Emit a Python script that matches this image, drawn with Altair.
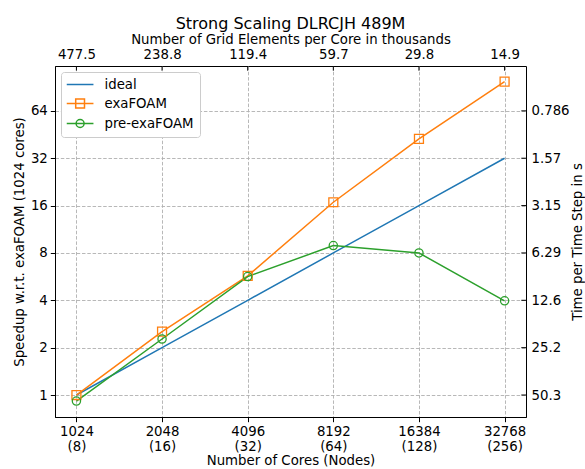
import altair as alt
import pandas as pd

# ---------------- data ----------------
cores = [1024, 2048, 4096, 8192, 16384, 32768]
nodes = [8, 16, 32, 64, 128, 256]
ideal = [1, 2, 4, 8, 16, 32]
exafoam = [1.0, 2.53, 5.72, 16.8, 42.5, 98.1]
pre_exafoam = [0.916, 2.27, 5.66, 8.91, 8.0, 3.97]
grid_k = ["477.5", "238.8", "119.4", "59.7", "29.8", "14.9"]
speedup_ticks = [1, 2, 4, 8, 16, 32, 64]
time_labels = ["50.3", "25.2", "12.6", "6.29", "3.15", "1.57", "0.786"]
series = ["ideal", "exaFOAM", "pre-exaFOAM"]
colors = ["#1f77b4", "#ff7f0e", "#2ca02c"]

# ---------------- layout ----------------
W, H = 471, 351
XDOM = [861, 38968]
YDOM = [0.725, 123.4]
FONT = "DejaVu Sans"
FS = 13.3

rows = []
for name, vals in zip(series, [ideal, exafoam, pre_exafoam]):
    for c, v in zip(cores, vals):
        rows.append({"cores": c, "series": name, "speedup": v})
df = pd.DataFrame(rows)
df_ex = df[df.series == "exaFOAM"]
df_pre = df[df.series == "pre-exaFOAM"]
df_top = pd.DataFrame({"cores": cores})
df_right = pd.DataFrame({"speedup": speedup_ticks})

xscale = alt.Scale(type="log", base=2, domain=XDOM, nice=False)
yscale = alt.Scale(type="log", base=2, domain=YDOM, nice=False)

cores_js = "[" + ",".join(str(c) for c in cores) + "]"
nodes_js = "[" + ",".join(str(n) for n in nodes) + "]"
grid_js = "[" + ",".join("'" + g + "'" for g in grid_k) + "]"
sp_js = "[" + ",".join(str(s) for s in speedup_ticks) + "]"
time_js = "[" + ",".join("'" + t + "'" for t in time_labels) + "]"

bottom_expr = ("['' + datum.value, '(' + " + nodes_js +
               "[indexof(" + cores_js + ", datum.value)] + ')']")
top_expr = grid_js + "[indexof(" + cores_js + ", datum.value)]"
right_expr = time_js + "[indexof(" + sp_js + ", datum.value)]"

x_main = alt.X("cores:Q", scale=xscale, axis=alt.Axis(
    values=cores, labelExpr=bottom_expr, title="Number of Cores (Nodes)",
    grid=True, tickSize=4.7, labelPadding=3, labelLineHeight=14.5,
    titlePadding=1, labelFlush=False))
y_main = alt.Y("speedup:Q", scale=yscale, axis=alt.Axis(
    values=speedup_ticks, format="d", title="Speedup w.r.t. exaFOAM (1024 cores)",
    grid=True, tickSize=4.7, labelPadding=3, titlePadding=4, labelFlush=False))

# legend symbols: line with hollow marker (custom paths; marker outline is
# traced twice in opposite directions so that it stays unfilled)
u = 6.0      # px per path unit (sqrt(144)/2)
c = 6.75     # symbol centre within legend column
L = 26.7
x0 = -c / u
x1 = (L - c) / u
m = (L / 2 - c) / u
a_sq = 4.4 / u
a_ci = 4.0 / u
def f(v):
    return f"{v:.3f}"
p_line = f"M{f(x0)},0H{f(x1)}"
p_sq = (p_line +
        f"M{f(m - a_sq)},{f(-a_sq)}H{f(m + a_sq)}V{f(a_sq)}H{f(m - a_sq)}Z"
        f"M{f(m - a_sq)},{f(-a_sq)}V{f(a_sq)}H{f(m + a_sq)}V{f(-a_sq)}Z")
p_ci = (p_line +
        f"M{f(m - a_ci)},0A{f(a_ci)},{f(a_ci)} 0 1,0 {f(m + a_ci)},0"
        f"A{f(a_ci)},{f(a_ci)} 0 1,0 {f(m - a_ci)},0Z"
        f"M{f(m - a_ci)},0A{f(a_ci)},{f(a_ci)} 0 1,1 {f(m + a_ci)},0"
        f"A{f(a_ci)},{f(a_ci)} 0 1,1 {f(m - a_ci)},0Z")

legend = alt.Legend(
    title=None, orient="none", legendX=6, legendY=6, padding=5.5,
    fillColor="white", strokeColor="#cccccc", cornerRadius=3,
    labelFont=FONT, labelFontSize=FS, labelColor="black",
    rowPadding=4, symbolSize=144, symbolStrokeWidth=1.5, labelOffset=24,
    symbolFillColor="transparent", symbolOpacity=1)

line = alt.Chart(df).mark_line(strokeWidth=1.5, clip=True).encode(
    x=x_main, y=y_main,
    color=alt.Color("series:N", scale=alt.Scale(domain=series, range=colors),
                    legend=legend),
    shape=alt.Shape("series:N", scale=alt.Scale(domain=series, range=[p_line, p_sq, p_ci]),
                    legend=legend),
)

stroke_enc = alt.Stroke("series:N", scale=alt.Scale(domain=series, range=colors), legend=None)
pts_sq = alt.Chart(df_ex).mark_point(shape="square", size=80, filled=False,
                                     strokeWidth=1.3, opacity=1).encode(
    x=x_main, y=y_main, stroke=stroke_enc)
pts_ci = alt.Chart(df_pre).mark_point(shape="circle", size=68, filled=False,
                                      strokeWidth=1.3, opacity=1).encode(
    x=x_main, y=y_main, stroke=stroke_enc)

main = alt.layer(line, pts_sq, pts_ci)

x_top = alt.X("cores:Q", scale=xscale, axis=alt.Axis(
    orient="top", values=cores, labelExpr=top_expr,
    title="Number of Grid Elements per Core in thousands",
    grid=False, ticks=False, tickSize=0, labelPadding=5, titlePadding=1,
    labelFlush=False, domain=False))
y_right = alt.Y("speedup:Q", scale=yscale, axis=alt.Axis(
    orient="right", values=speedup_ticks, labelExpr=right_expr,
    title="Time per Time Step in s", titleAngle=270, titleBaseline="top",
    grid=False, ticks=False, tickSize=0,
    labelPadding=5, titlePadding=1, labelFlush=False, domain=False))

ghost = alt.Chart(df[df.series == "ideal"]).mark_point(opacity=0).encode(x=x_top, y=y_right)
top_ticks = alt.Chart(df_top).mark_rule(color="black", strokeWidth=1).encode(
    x=x_top, y=alt.value(0), y2=alt.value(4.7))
right_ticks = alt.Chart(df_right).mark_rule(color="black", strokeWidth=1).encode(
    y=y_right, x=alt.value(W - 4.7), x2=alt.value(W))

secondary = alt.layer(ghost, top_ticks, right_ticks)

chart = alt.layer(main, secondary).resolve_scale(
    x="independent", y="independent"
).properties(
    width=W, height=H,
    autosize=alt.AutoSizeParams(type="none"),
    padding={"left": 55, "top": 66, "right": 59, "bottom": 52},
    title=alt.TitleParams("Strong Scaling DLRCJH 489M", font=FONT, fontSize=16,
                          fontWeight="normal", color="black", anchor="middle",
                          offset=0),
).configure_axis(
    labelFont=FONT, labelFontSize=FS, labelColor="black",
    titleFont=FONT, titleFontSize=FS, titleFontWeight="normal", titleColor="black",
    domainColor="black", domainWidth=1, tickColor="black", tickWidth=1,
    gridColor="#b0b0b0", gridDash=[3.5, 1.8], gridWidth=0.9,
).configure_view(stroke="black", strokeWidth=1)

chart.save("out.html", embed_options={"renderer": "svg", "actions": False})
